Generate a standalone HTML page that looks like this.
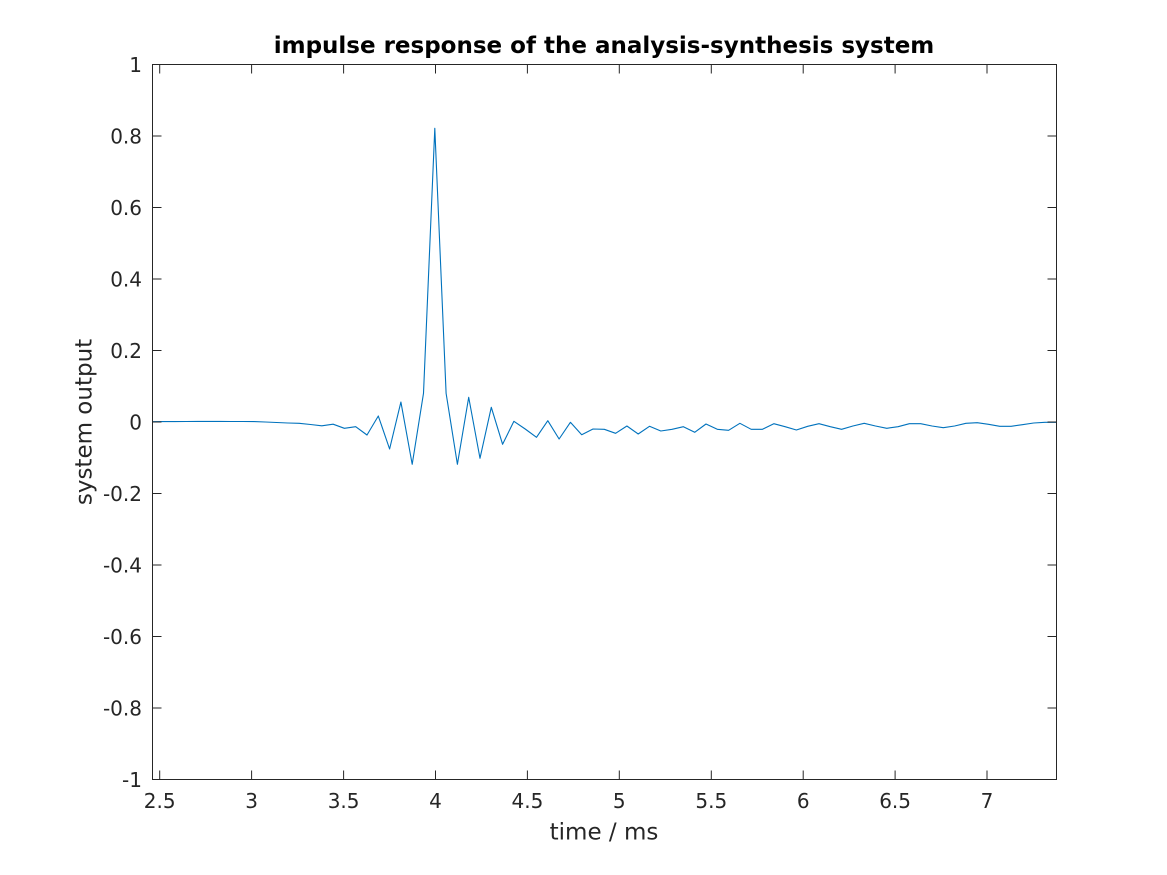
<!DOCTYPE html>
<html><head><meta charset="utf-8"><style>
html,body{margin:0;padding:0;background:#fff;}
svg{display:block;}
text{font-family:"DejaVu Sans","Liberation Sans",sans-serif;fill:#262626;}
</style></head><body>
<svg width="1167" height="875" viewBox="0 0 1167 875" xmlns="http://www.w3.org/2000/svg">
<rect width="1167" height="875" fill="#fff"/>
<!-- data -->
<polyline fill="none" stroke="#0072BD" stroke-width="1.1" stroke-linejoin="round" points="
152.3,421.7 163.6,421.6 174.9,421.6 186.2,421.5 197.5,421.4 208.8,421.4 220.1,421.4 231.4,421.5 242.7,421.5 254,421.6
265.3,422.0 276.6,422.5 287.9,423.0 299.2,423.3 310.5,424.5 321.8,425.8 333.1,424.2 344.4,428.3 355.7,426.7 367,435
378.3,416 389.6,449 400.9,402 412.2,464.3 423.5,393.3 434.8,128.3 446.1,393.3 457.4,464.3 468.7,397.3 480,458.3
491.3,407.3 502.6,444.3 513.9,421.3 525.2,429 536.5,437.3 547.8,420.7 559.1,439 570.4,422.3 581.7,434.7 593,429
604.3,429.3 615.6,433.3 626.9,426 638.2,434 649.5,426.3 660.8,431 672.1,429.3 683.4,426.7 694.7,432.3 706,424
717.3,429.3 728.6,430.3 739.9,423.3 751.2,429.3 762.5,429.3 773.8,423.7 785.1,426.7 796.4,430 807.7,426.3 819,423.7
830.3,426.7 841.6,429.3 852.9,426 864.2,423.3 875.5,426 886.8,428.3 898.1,426.7 909.4,423.7 920.7,423.7 932,426
943.3,427.7 954.6,426 965.9,423.3 977.2,422.7 988.5,424.3 999.8,426.3 1011.1,426.3 1022.4,424.7 1033.7,423 1045,422.3
1056.3,422.3"/>
<!-- axes box -->
<rect x="152.5" y="64.5" width="904" height="715" fill="none" stroke="#262626" stroke-width="1"/>
<!-- ticks -->
<g stroke="#262626" stroke-width="1">
<path d="M159.7,779.5v-9 M251.6,779.5v-9 M343.6,779.5v-9 M435.5,779.5v-9 M527.4,779.5v-9 M619.3,779.5v-9 M711.3,779.5v-9 M803.2,779.5v-9 M895.1,779.5v-9 M987,779.5v-9"/>
<path d="M159.7,64.5v9 M251.6,64.5v9 M343.6,64.5v9 M435.5,64.5v9 M527.4,64.5v9 M619.3,64.5v9 M711.3,64.5v9 M803.2,64.5v9 M895.1,64.5v9 M987,64.5v9"/>
<path d="M152.5,64.5h9 M152.5,136h9 M152.5,207.5h9 M152.5,279h9 M152.5,350.5h9 M152.5,422h9 M152.5,493.5h9 M152.5,565h9 M152.5,636.5h9 M152.5,708h9 M152.5,779.5h9"/>
<path d="M1056.5,64.5h-9 M1056.5,136h-9 M1056.5,207.5h-9 M1056.5,279h-9 M1056.5,350.5h-9 M1056.5,422h-9 M1056.5,493.5h-9 M1056.5,565h-9 M1056.5,636.5h-9 M1056.5,708h-9 M1056.5,779.5h-9"/>
</g>
<!-- y tick labels -->
<g font-size="20" text-anchor="end">
<text x="142" y="72">1</text>
<text x="142" y="143.5">0.8</text>
<text x="142" y="215">0.6</text>
<text x="142" y="286.5">0.4</text>
<text x="142" y="358">0.2</text>
<text x="142" y="429.5">0</text>
<text x="142" y="501">-0.2</text>
<text x="142" y="572.5">-0.4</text>
<text x="142" y="644">-0.6</text>
<text x="142" y="715.5">-0.8</text>
<text x="142" y="787">-1</text>
</g>
<!-- x tick labels -->
<g font-size="20" text-anchor="middle">
<text x="159.7" y="808">2.5</text>
<text x="251.6" y="808">3</text>
<text x="343.6" y="808">3.5</text>
<text x="435.5" y="808">4</text>
<text x="527.4" y="808">4.5</text>
<text x="619.3" y="808">5</text>
<text x="711.3" y="808">5.5</text>
<text x="803.2" y="808">6</text>
<text x="895.1" y="808">6.5</text>
<text x="987" y="808">7</text>
</g>
<!-- axis labels -->
<text x="604" y="839.5" font-size="23" text-anchor="middle">time / ms</text>
<text transform="translate(91.5,422) rotate(-90)" font-size="23" text-anchor="middle">system output</text>
<!-- title -->
<text x="604" y="53" font-size="23" font-weight="bold" text-anchor="middle" style="fill:#000">impulse response of the analysis-synthesis system</text>
</svg>
</body></html>
